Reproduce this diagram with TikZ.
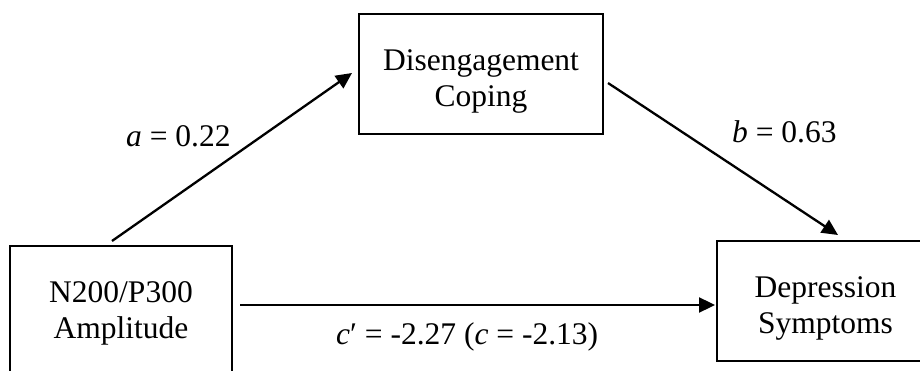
\documentclass[tikz,border=0pt]{standalone}
\usepackage{fontspec}
\setmainfont{Liberation Serif}
\usetikzlibrary{arrows.meta}
\begin{document}
\begin{tikzpicture}[x=1pt,y=-1pt,
  boxnode/.style={draw=black,line width=2.2pt,rectangle,inner sep=0pt,outer sep=0pt},
  txt/.style={inner sep=0pt,align=center,font=\fontsize{31.5}{36}\selectfont},
  lbl/.style={inner sep=0pt,anchor=base west,font=\fontsize{31.5}{36}\selectfont},
  arr/.style={line width=2.3pt,-{Triangle[length=16pt,width=15pt]}}]
\useasboundingbox (0,0) rectangle (920,371);
\clip (0,0) rectangle (920,371);
\node[boxnode,minimum width=222pt,minimum height=140pt,anchor=north west] (amp) at (10,246) {};
\node[boxnode,minimum width=244pt,minimum height=120pt,anchor=north west] (dis) at (359,14) {};
\node[boxnode,minimum width=217pt,minimum height=120pt,anchor=north west] (dep) at (717,241) {};
\node[txt] (ampt) at ([shift={(0,67)}]amp.north) {N200/P300\\Amplitude};
\node[txt] (dist) at ([shift={(0,67)}]dis.north) {Disengagement\\Coping};
\node[txt] (dept) at ([shift={(0,67)}]dep.north) {Depression\\Symptoms};
\draw[arr] ([shift={(102,-5)}]amp.north west) -- ([shift={(-7,-1)}]dis.west);
\draw[arr] ([shift={(5,9)}]dis.east) -- ([shift={(121,-6)}]dep.north west);
\draw[arr] ([shift={(8,59)}]amp.north east) -- ([shift={(-2,4)}]dep.west);
\node[lbl] (la) at (126,147) {\textit{a} = 0.22};
\node[lbl] (lb) at (732,143) {\textit{b} = 0.63};
\node[lbl] (lc) at (336,344) {\textit{c}′ = -2.27 (\textit{c} = -2.13)};
\end{tikzpicture}
\end{document}
